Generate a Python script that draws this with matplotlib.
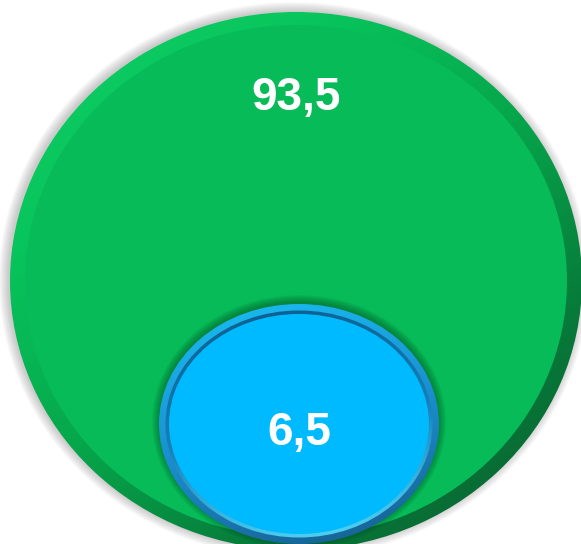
import matplotlib

matplotlib.use("Agg")
import matplotlib.pyplot as plt
import numpy as np
from matplotlib.colors import LinearSegmentedColormap
from matplotlib.patches import Ellipse

# values shown in the two nested bubbles
labels = ["93,5", "6,5"]
values = [93.5, 6.5]

# layout in pixel coordinates (x, y from top-left), half widths / heights
centers = [(296, 281), (299, 424)]
half_w = [286, 140]
half_h = [269, 120]
label_y = [98, 433]
rim = [15, 10]

W, H = 581, 544
fig = plt.figure(figsize=(W / 100, H / 100), dpi=100)
ax = fig.add_axes([0, 0, 1, 1])
ax.set_xlim(0, W)
ax.set_ylim(H, 0)
ax.axis("off")

yy, xx = np.mgrid[0:H, 0:W]


def gradient_ellipse(i, colors, z, shrink=0.0, xw=0.6, yoff=0.0):
    cx, cy = centers[i]
    e = Ellipse((cx, cy + yoff), 2 * (half_w[i] - shrink), 2 * (half_h[i] - shrink),
                facecolor="none", edgecolor="none", zorder=z)
    ax.add_patch(e)
    t = ((xx - cx) * xw * half_h[i] / half_w[i] + (yy - cy)) / (half_h[i] * (1 + xw))
    t = np.clip((t + 1) / 2, 0, 1)
    cmap = LinearSegmentedColormap.from_list("g", colors)
    im = ax.imshow(t, cmap=cmap, extent=(0, W, H, 0), zorder=z,
                   interpolation="bilinear", vmin=0, vmax=1)
    im.set_clip_path(e)


# soft drop shadow of the big bubble
cx, cy = centers[0]
for k in range(10):
    ax.add_patch(Ellipse((cx - 2, cy - 1), 2 * half_w[0] + 2 * k, 2 * half_h[0] + 2 * k,
                         facecolor="#606060", edgecolor="none", alpha=0.035, zorder=1))

# big green bubble
gradient_ellipse(0, ["#10D266", "#08C45C", "#06A64B", "#077A3A", "#0A5A2C"], 2, xw=0.8)
ax.add_patch(Ellipse(centers[0], 2 * (half_w[0] - rim[0]), 2 * (half_h[0] - rim[0] + 2),
                     facecolor="#07BB58", edgecolor="none", zorder=3))

# shadow of the small bubble on the green
cx, cy = centers[1]
for k in range(8):
    ax.add_patch(Ellipse((cx, cy - 2), 2 * half_w[1] + 2 * k, 2 * half_h[1] + 2 * k,
                         facecolor="#044a22", edgecolor="none", alpha=0.07, zorder=4))

# small blue bubble: outer rim, bevel ring, flat fill
gradient_ellipse(1, ["#18C0F5", "#1A8FCF", "#175C8C"], 5, xw=0.3)
gradient_ellipse(1, ["#0C5B8A", "#1580B8", "#5BE2FF"], 6, shrink=rim[1] - 3.5, xw=0.2)
ax.add_patch(Ellipse(centers[1], 2 * (half_w[1] - rim[1]), 2 * (half_h[1] - rim[1]),
                     facecolor="#00BAFF", edgecolor="none", zorder=7))

for i, lab in enumerate(labels):
    ax.text(centers[i][0], label_y[i], lab, ha="center", va="center",
            color="white", fontsize=33, fontweight="bold",
            family=["Liberation Sans", "DejaVu Sans"], zorder=10)

fig.savefig("out.png", dpi=100)
